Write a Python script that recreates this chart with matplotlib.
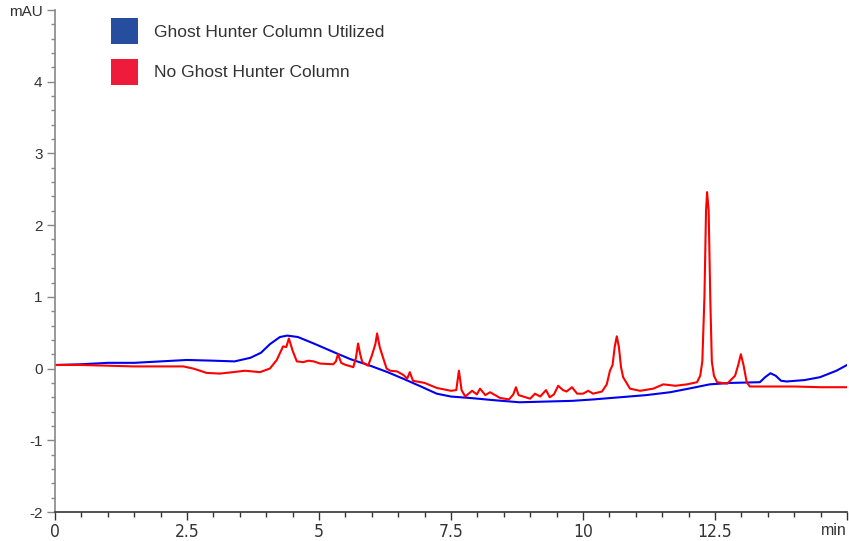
import matplotlib
matplotlib.use('Agg')

import matplotlib.pyplot as plt
from matplotlib.patches import Patch
from matplotlib.ticker import MultipleLocator

plt.rcParams['font.family'] = ['Liberation Sans', 'DejaVu Sans']

################# Data ####################################################
blue_t = [0.0, 0.5, 1.0, 1.5, 2.0, 2.5, 3.0, 3.4, 3.7, 3.9, 4.07, 4.26, 4.4,
          4.6, 4.9, 5.34, 5.6, 5.97, 6.3, 6.59, 6.9, 7.23, 7.5, 7.86, 8.3,
          8.8, 9.3, 9.8, 10.2, 10.7, 11.2, 11.65, 12.0, 12.4, 12.8, 13.35,
          13.45, 13.55, 13.65, 13.75, 13.86, 14.2, 14.49, 14.8, 15.0]
blue_y = [0.05, 0.06, 0.08, 0.08, 0.10, 0.12, 0.11, 0.10, 0.15, 0.22, 0.34,
          0.44, 0.46, 0.44, 0.35, 0.21, 0.13, 0.04, -0.05, -0.14, -0.24,
          -0.35, -0.39, -0.41, -0.44, -0.47, -0.46, -0.45, -0.43, -0.40,
          -0.37, -0.33, -0.28, -0.22, -0.20, -0.19, -0.12, -0.065, -0.10,
          -0.17, -0.18, -0.16, -0.12, -0.03, 0.05]

red_t = [0.0, 0.5, 1.0, 1.5, 2.0, 2.43, 2.62, 2.87, 3.12, 3.37, 3.6, 3.88,
         4.07, 4.2, 4.32, 4.38, 4.43, 4.5, 4.58, 4.7, 4.8, 4.9, 5.02, 5.27,
         5.32, 5.36, 5.42, 5.49, 5.65, 5.7, 5.74, 5.78, 5.82, 5.93, 6.0,
         6.03, 6.07, 6.1, 6.15, 6.21, 6.28, 6.35, 6.48, 6.6, 6.67, 6.72,
         6.78, 7.0, 7.23, 7.5, 7.6, 7.65, 7.7, 7.77, 7.9, 7.99, 8.05, 8.15,
         8.24, 8.43, 8.6, 8.68, 8.73, 8.78, 9.0, 9.09, 9.19, 9.3, 9.37, 9.45,
         9.53, 9.62, 9.69, 9.79, 9.89, 10.0, 10.1, 10.19, 10.36, 10.45,
         10.51, 10.56, 10.6, 10.64, 10.68, 10.72, 10.76, 10.89, 11.08, 11.33,
         11.52, 11.75, 11.97, 12.16, 12.22, 12.26, 12.3, 12.33, 12.35, 12.38,
         12.41, 12.44, 12.48, 12.54, 12.73, 12.88, 12.94, 12.99, 13.04, 13.1,
         13.16, 13.5, 14.0, 14.5, 15.0]
red_y = [0.05, 0.05, 0.04, 0.03, 0.03, 0.03, 0.0, -0.06, -0.07, -0.05, -0.03,
         -0.05, 0.0, 0.12, 0.31, 0.30, 0.42, 0.25, 0.10, 0.09, 0.11, 0.10,
         0.07, 0.06, 0.10, 0.20, 0.08, 0.055, 0.02, 0.15, 0.35, 0.20, 0.09,
         0.04, 0.18, 0.25, 0.35, 0.49, 0.30, 0.16, 0.0, -0.03, -0.04, -0.09,
         -0.14, -0.05, -0.17, -0.20, -0.27, -0.31, -0.30, -0.03, -0.30, -0.39,
         -0.31, -0.36, -0.28, -0.37, -0.33, -0.41, -0.43, -0.36, -0.26, -0.37,
         -0.42, -0.35, -0.39, -0.30, -0.40, -0.36, -0.24, -0.30, -0.32, -0.26,
         -0.35, -0.35, -0.31, -0.35, -0.32, -0.22, -0.03, 0.05, 0.30, 0.45,
         0.30, 0.02, -0.12, -0.28, -0.31, -0.28, -0.22, -0.24, -0.22, -0.19,
         -0.10, 0.10, 1.0, 2.2, 2.46, 2.2, 1.0, 0.1, -0.10, -0.19, -0.21,
         -0.10, 0.05, 0.20, 0.05, -0.19, -0.25, -0.25, -0.25, -0.26, -0.26]

series_labels = ['Ghost Hunter Column Utilized', 'No Ghost Hunter Column']
x_ticks  = [0, 2.5, 5, 7.5, 10, 12.5, 15]
x_labels = ['0', '2.5', '5', '7.5', '10', '12.5', 'min']
y_ticks  = [-2, -1, 0, 1, 2, 3, 4, 5]
y_labels = ['-2', '-1', '0', '1', '2', '3', '4', 'mAU']
############################################################################

fig = plt.figure(figsize=(8.49, 5.41), dpi=100)
ax  = fig.add_axes([55/849, 1-512/541, 792/849, 502/541])

ax.plot(blue_t, blue_y, color='#0000ee', lw=1.5)
ax.plot(red_t,  red_y,  color='#ff0000', lw=1.5)

ax.set_xlim(0, 15)
ax.set_ylim(-2, 5)

for s in ['top', 'right']:
  ax.spines[s].set_visible(False)
ax.spines['left'].set_color('#888888')
ax.spines['bottom'].set_color('#333333')
ax.spines['left'].set_linewidth(1.2)
ax.spines['bottom'].set_linewidth(1.2)

ax.set_xticks(x_ticks)
ax.set_xticklabels(x_labels)
ax.set_yticks(y_ticks)
ax.set_yticklabels(y_labels)
ax.xaxis.set_minor_locator(MultipleLocator(0.5))
ax.yaxis.set_minor_locator(MultipleLocator(0.2))

ax.tick_params(axis='y', which='major', length=6, width=1, color='#888888',
               labelsize=11, labelcolor='#333333', pad=3)
ax.tick_params(axis='y', which='minor', length=3, width=1, color='#888888')
ax.tick_params(axis='x', which='major', length=6, width=1, color='#333333',
               labelsize=12.5, labelcolor='#333333', pad=2)
ax.tick_params(axis='x', which='minor', length=3.5, width=1, color='#333333')

# narrow digits on the time axis
for lab in ax.get_xticklabels()[:-1]:
  lab.set_family('DejaVu Sans')
  lab.set_stretch('condensed')
ax.get_xticklabels()[-1].set_fontsize(11.5)
ax.get_xticklabels()[-1].set_horizontalalignment('right')
ax.get_xticklabels()[-1].set_x(15.05)

handles = [Patch(facecolor='#274e9e', edgecolor='none'),
           Patch(facecolor='#ee1b3a', edgecolor='none')]
leg = ax.legend(handles, series_labels, loc='upper left',
                bbox_to_anchor=((111-55)/792, (512-18)/502),
                frameon=False, fontsize=12.5, handlelength=1.55,
                handleheight=1.93, handletextpad=0.95, labelspacing=0.85,
                borderpad=0, borderaxespad=0)
for t in leg.get_texts():
  t.set_color('#333333')

fig.savefig('out.png', dpi=100)
